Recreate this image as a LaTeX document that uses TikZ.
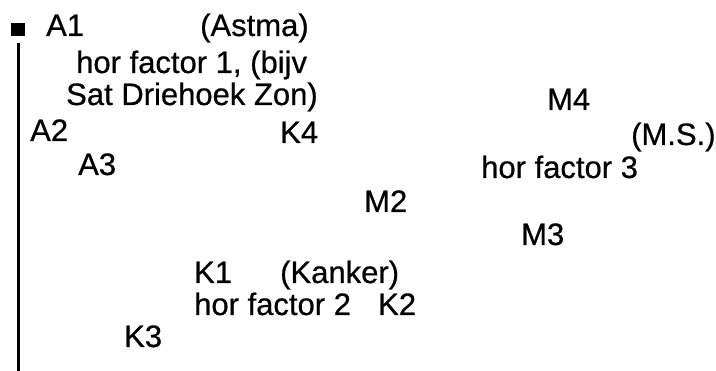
\documentclass[tikz,border=0pt]{standalone}
\usepackage{fontspec}
\setmainfont{Liberation Sans}[FakeBold=0.6]
\newfontfamily\scanfont{Liberation Sans}[FakeBold=0.6]
\begin{document}
\begin{tikzpicture}[x=1pt,y=-1pt,
  lbl/.style={anchor=base west,inner sep=0pt,font=\scanfont\fontsize{31}{37}\selectfont}]
\useasboundingbox (0,0) rectangle (716,371);
\fill (11,23) rectangle (25,36);
\coordinate (ltop) at (18.5,43);
\coordinate (lbot) at (18.5,371);
\draw[line width=2.3pt] (ltop) -- (lbot);
\node[lbl] (a1) at (46,36) {A1};
\node[lbl] (astma) at (200,36) {(Astma)};
\node[lbl] (hf1) at (76,73) {hor factor 1, (bijv};
\node[lbl] (sat) at (66,105) {Sat Driehoek Zon)};
\node[lbl] (a2) at (30,141) {A2};
\node[lbl] (k4) at (280,143) {K4};
\node[lbl] (a3) at (78,175) {A3};
\node[lbl] (m4) at (547,110) {M4};
\node[lbl] (ms) at (631,145) {(M.S.)};
\node[lbl] (hf3) at (481,178) {hor factor 3};
\node[lbl] (m2) at (364,212) {M2};
\node[lbl] (m3) at (521,245) {M3};
\node[lbl] (k1) at (194,283) {K1};
\node[lbl] (kanker) at (280,283) {(Kanker)};
\node[lbl] (hf2) at (194,315) {hor factor 2};
\node[lbl] (k2) at (378,315) {K2};
\node[lbl] (k3) at (124,347) {K3};
\end{tikzpicture}
\end{document}
